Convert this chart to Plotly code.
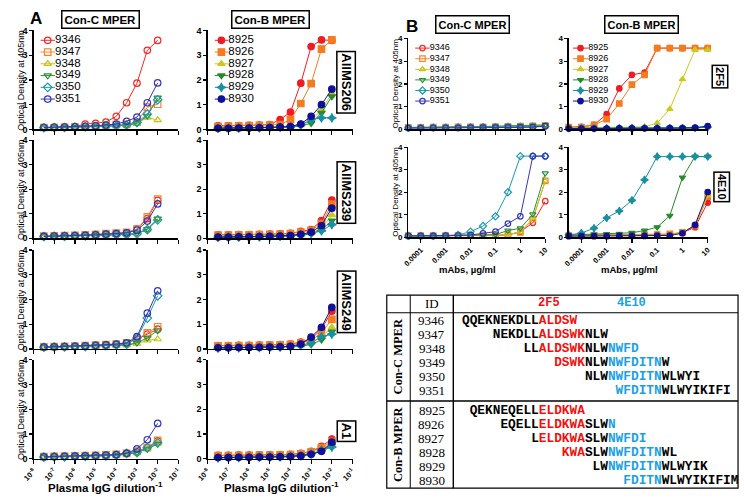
import plotly.graph_objects as go

W, H = 744, 503

# ------------------------------------------------------------------ data
dil_exp = [-7.5, -7.0, -6.5, -6.0, -5.5, -5.0, -4.5, -4.0, -3.5, -3.0, -2.5, -2.0]
mab_exp = [-4.5, -4.0, -3.5, -3.0, -2.5, -2.0, -1.5, -1.0, -0.5, 0.0, 0.5, 1.0]
dil_tick_exp = [-8, -7, -6, -5, -4, -3, -2, -1]
mab_tick_vals = [0.0001, 0.001, 0.01, 0.1, 1, 10]
mab_tick_text = ["0.0001", "0.001", "0.01", "0.1", "1", "10"]

conc_ids = ["9346", "9347", "9348", "9349", "9350", "9351"]
conb_ids = ["8925", "8926", "8927", "8928", "8929", "8930"]
sera = ["AIIMS206", "AIIMS239", "AIIMS249", "A1"]
mabs = ["2F5", "4E10"]

aiims206_conc = [
    [0.08, 0.09, 0.10, 0.12, 0.22, 0.25, 0.30, 0.53, 1.08, 1.87, 3.20, 3.60],
    [0.08, 0.08, 0.09, 0.10, 0.12, 0.14, 0.18, 0.20, 0.22, 0.30, 0.90, 1.02],
    [0.07, 0.08, 0.08, 0.09, 0.10, 0.12, 0.14, 0.15, 0.18, 0.25, 0.48, 0.38],
    [0.07, 0.08, 0.08, 0.09, 0.10, 0.12, 0.14, 0.15, 0.18, 0.25, 0.55, 1.28],
    [0.07, 0.08, 0.08, 0.09, 0.10, 0.12, 0.14, 0.15, 0.17, 0.28, 0.62, 1.20],
    [0.08, 0.09, 0.10, 0.11, 0.13, 0.15, 0.18, 0.22, 0.33, 0.50, 1.08, 1.88],
]
aiims206_conb = [
    [0.15, 0.15, 0.16, 0.17, 0.18, 0.20, 0.40, 0.70, 1.87, 3.35, 3.62, 3.60],
    [0.13, 0.14, 0.15, 0.16, 0.17, 0.18, 0.20, 0.40, 1.05, 1.85, 3.25, 3.62],
    [0.05, 0.06, 0.06, 0.07, 0.08, 0.09, 0.10, 0.12, 0.18, 0.35, 0.80, 1.45],
    [0.05, 0.05, 0.06, 0.06, 0.07, 0.08, 0.09, 0.10, 0.15, 0.25, 0.67, 1.33],
    [0.05, 0.05, 0.06, 0.06, 0.07, 0.08, 0.09, 0.10, 0.18, 0.40, 0.47, 0.47],
    [0.05, 0.05, 0.06, 0.06, 0.07, 0.08, 0.10, 0.12, 0.22, 0.53, 1.00, 1.63],
]
aiims239_conc = [
    [0.08, 0.09, 0.10, 0.11, 0.13, 0.15, 0.18, 0.20, 0.22, 0.38, 0.80, 1.55],
    [0.09, 0.10, 0.11, 0.12, 0.14, 0.16, 0.19, 0.21, 0.24, 0.37, 0.87, 1.60],
    [0.07, 0.08, 0.08, 0.09, 0.10, 0.12, 0.14, 0.15, 0.16, 0.20, 0.35, 0.80],
    [0.07, 0.08, 0.08, 0.09, 0.10, 0.12, 0.13, 0.14, 0.15, 0.20, 0.37, 0.80],
    [0.07, 0.08, 0.08, 0.09, 0.10, 0.12, 0.13, 0.14, 0.15, 0.18, 0.35, 0.75],
    [0.08, 0.09, 0.10, 0.11, 0.12, 0.14, 0.17, 0.19, 0.22, 0.33, 0.70, 1.40],
]
aiims239_conb = [
    [0.14, 0.14, 0.15, 0.15, 0.16, 0.17, 0.18, 0.20, 0.28, 0.35, 0.72, 1.56],
    [0.13, 0.13, 0.14, 0.14, 0.15, 0.16, 0.17, 0.19, 0.25, 0.32, 0.60, 1.39],
    [0.05, 0.05, 0.06, 0.06, 0.07, 0.08, 0.09, 0.10, 0.15, 0.22, 0.40, 0.95],
    [0.04, 0.05, 0.05, 0.06, 0.06, 0.07, 0.08, 0.09, 0.12, 0.18, 0.35, 0.72],
    [0.04, 0.05, 0.05, 0.06, 0.06, 0.07, 0.08, 0.09, 0.14, 0.20, 0.30, 0.56],
    [0.05, 0.05, 0.06, 0.06, 0.07, 0.08, 0.09, 0.11, 0.16, 0.25, 0.52, 1.23],
]
aiims249_conc = [
    [0.08, 0.09, 0.10, 0.11, 0.13, 0.15, 0.17, 0.19, 0.25, 0.40, 0.60, 0.80],
    [0.09, 0.10, 0.11, 0.12, 0.14, 0.16, 0.18, 0.20, 0.25, 0.40, 0.65, 0.90],
    [0.07, 0.08, 0.08, 0.09, 0.10, 0.11, 0.12, 0.13, 0.15, 0.22, 0.35, 0.40],
    [0.07, 0.08, 0.08, 0.09, 0.10, 0.11, 0.12, 0.13, 0.16, 0.25, 0.45, 0.75],
    [0.07, 0.08, 0.08, 0.09, 0.10, 0.12, 0.14, 0.16, 0.20, 0.45, 1.25, 2.15],
    [0.08, 0.09, 0.10, 0.11, 0.13, 0.15, 0.17, 0.20, 0.25, 0.50, 1.45, 2.35],
]
aiims249_conb = [
    [0.14, 0.14, 0.15, 0.15, 0.16, 0.17, 0.18, 0.20, 0.28, 0.40, 0.80, 1.53],
    [0.13, 0.13, 0.14, 0.14, 0.15, 0.16, 0.17, 0.19, 0.25, 0.35, 0.65, 1.20],
    [0.05, 0.05, 0.06, 0.06, 0.07, 0.08, 0.09, 0.10, 0.15, 0.25, 0.50, 0.87],
    [0.04, 0.05, 0.05, 0.06, 0.06, 0.07, 0.08, 0.09, 0.12, 0.18, 0.37, 0.70],
    [0.04, 0.05, 0.05, 0.06, 0.06, 0.07, 0.08, 0.09, 0.14, 0.25, 0.50, 0.60],
    [0.05, 0.05, 0.06, 0.06, 0.07, 0.08, 0.09, 0.11, 0.20, 0.48, 0.88, 1.68],
]
a1_conc = [
    [0.08, 0.09, 0.10, 0.11, 0.12, 0.13, 0.15, 0.17, 0.22, 0.30, 0.45, 0.72],
    [0.09, 0.10, 0.11, 0.12, 0.13, 0.14, 0.16, 0.18, 0.22, 0.30, 0.45, 0.75],
    [0.07, 0.08, 0.08, 0.09, 0.10, 0.11, 0.12, 0.14, 0.18, 0.25, 0.42, 0.62],
    [0.07, 0.08, 0.08, 0.09, 0.10, 0.11, 0.12, 0.14, 0.20, 0.25, 0.40, 0.60],
    [0.07, 0.08, 0.08, 0.09, 0.10, 0.11, 0.12, 0.14, 0.22, 0.25, 0.45, 0.65],
    [0.08, 0.09, 0.10, 0.11, 0.12, 0.13, 0.15, 0.17, 0.22, 0.40, 0.77, 1.43],
]
a1_conb = [
    [0.14, 0.14, 0.15, 0.15, 0.16, 0.16, 0.17, 0.18, 0.22, 0.30, 0.50, 0.80],
    [0.13, 0.13, 0.14, 0.14, 0.15, 0.15, 0.16, 0.17, 0.20, 0.28, 0.45, 0.70],
    [0.05, 0.05, 0.06, 0.06, 0.07, 0.07, 0.08, 0.09, 0.12, 0.20, 0.35, 0.60],
    [0.04, 0.05, 0.05, 0.06, 0.06, 0.07, 0.08, 0.09, 0.12, 0.18, 0.32, 0.55],
    [0.04, 0.05, 0.05, 0.06, 0.06, 0.07, 0.08, 0.09, 0.12, 0.20, 0.35, 0.47],
    [0.05, 0.05, 0.06, 0.06, 0.07, 0.07, 0.08, 0.09, 0.12, 0.18, 0.30, 0.67],
]
f2f5_conc = [
    [0.08, 0.08, 0.09, 0.09, 0.10, 0.10, 0.10, 0.11, 0.12, 0.13, 0.14, 0.15],
    [0.09, 0.09, 0.10, 0.10, 0.11, 0.11, 0.12, 0.13, 0.14, 0.15, 0.16, 0.18],
    [0.08, 0.08, 0.09, 0.09, 0.10, 0.10, 0.11, 0.12, 0.13, 0.14, 0.15, 0.16],
    [0.09, 0.09, 0.10, 0.10, 0.11, 0.12, 0.13, 0.14, 0.15, 0.16, 0.17, 0.20],
    [0.07, 0.07, 0.08, 0.08, 0.09, 0.09, 0.10, 0.10, 0.11, 0.11, 0.12, 0.13],
    [0.06, 0.06, 0.07, 0.07, 0.07, 0.08, 0.08, 0.08, 0.09, 0.09, 0.10, 0.15],
]
e4e10_conc = [
    [0.06, 0.06, 0.06, 0.07, 0.07, 0.07, 0.08, 0.08, 0.10, 0.25, 0.64, 1.60],
    [0.07, 0.07, 0.07, 0.08, 0.08, 0.08, 0.09, 0.10, 0.12, 0.22, 0.80, 2.50],
    [0.06, 0.06, 0.06, 0.07, 0.07, 0.07, 0.08, 0.09, 0.11, 0.25, 0.83, 2.50],
    [0.07, 0.07, 0.07, 0.08, 0.08, 0.09, 0.10, 0.12, 0.30, 0.40, 1.02, 2.84],
    [0.06, 0.06, 0.06, 0.06, 0.10, 0.25, 0.50, 0.93, 2.00, 3.60, 3.60, 3.60],
    [0.06, 0.06, 0.06, 0.07, 0.08, 0.10, 0.17, 0.25, 0.61, 0.93, 3.60, 3.60],
]
f2f5_conb = [
    [0.10, 0.12, 0.20, 0.67, 1.80, 2.40, 2.50, 3.57, 3.57, 3.57, 3.57, 3.57],
    [0.10, 0.10, 0.20, 0.45, 1.14, 1.97, 2.40, 3.57, 3.57, 3.57, 3.57, 3.57],
    [0.08, 0.08, 0.09, 0.09, 0.10, 0.10, 0.12, 0.28, 0.90, 2.20, 3.50, 3.50],
    [0.04, 0.04, 0.04, 0.05, 0.05, 0.05, 0.05, 0.05, 0.06, 0.06, 0.07, 0.10],
    [0.05, 0.05, 0.05, 0.05, 0.05, 0.06, 0.06, 0.06, 0.06, 0.07, 0.07, 0.10],
    [0.04, 0.04, 0.04, 0.04, 0.05, 0.05, 0.05, 0.05, 0.06, 0.06, 0.08, 0.15],
]
e4e10_conb = [
    [0.08, 0.08, 0.08, 0.08, 0.09, 0.09, 0.10, 0.11, 0.13, 0.20, 0.45, 1.54],
    [0.08, 0.09, 0.09, 0.09, 0.10, 0.10, 0.11, 0.12, 0.15, 0.22, 0.50, 1.80],
    [0.07, 0.07, 0.08, 0.08, 0.08, 0.09, 0.09, 0.10, 0.12, 0.20, 0.55, 1.85],
    [0.10, 0.12, 0.13, 0.14, 0.15, 0.20, 0.30, 0.45, 0.96, 2.65, 3.58, 3.58],
    [0.10, 0.19, 0.40, 0.86, 1.17, 1.64, 2.55, 3.58, 3.58, 3.58, 3.58, 3.58],
    [0.05, 0.05, 0.05, 0.05, 0.06, 0.06, 0.06, 0.07, 0.08, 0.18, 0.55, 2.01],
]

# table: peptide sequences as (segment, kind) where kind k=black, r=2F5, b=4E10
conc_seqs = [
    [("QQEKNEKDLL", "k"), ("ALDSW", "r")],
    [("NEKDLL", "k"), ("ALDSWK", "r"), ("NLW", "k")],
    [("LL", "k"), ("ALDSWK", "r"), ("NLW", "k"), ("NWFD", "b")],
    [("DSWK", "r"), ("NLW", "k"), ("NWFDITN", "b"), ("W", "k")],
    [("NLW", "k"), ("NWFDITN", "b"), ("WLWYI", "k")],
    [("WFDITN", "b"), ("WLWYIKIFI", "k")],
]
conb_seqs = [
    [("QEKNEQELL", "k"), ("ELDKWA", "r")],
    [("EQELL", "k"), ("ELDKWA", "r"), ("SLW", "k"), ("N", "b")],
    [("L", "k"), ("ELDKWA", "r"), ("SLW", "k"), ("NWFDI", "b")],
    [("KWA", "r"), ("SLW", "k"), ("NWFDITN", "b"), ("WL", "k")],
    [("LW", "k"), ("NWFDITN", "b"), ("WLWYIK", "k")],
    [("FDITN", "b"), ("WLWYIKIFIM", "k")],
]
conc_seq_offsets = [0, 4, 8, 12, 16, 20]
conb_seq_offsets = [1, 5, 9, 13, 17, 21]

# ------------------------------------------------------------------ style
conc_colors = ["#ee2a24", "#f5862e", "#c4c41a", "#2e8f3a", "#1c9aaa", "#3535b5"]
conb_colors = ["#ee1c24", "#f47b20", "#c9c91e", "#258a2e", "#1a8fa0", "#101098"]
conc_symbols = ["circle-open", "square-open", "triangle-up-open",
                "triangle-down-open", "diamond-open", "circle-open"]
conb_symbols = ["circle", "square", "triangle-up", "triangle-down",
                "star-diamond", "circle"]
seq_colors = {"k": "#000000", "r": "#ee1111", "b": "#1ba1e2"}
SANS = "Arial, Liberation Sans, sans-serif"
SERIF = "Times New Roman, Liberation Serif, serif"
MONO = "Courier New, Liberation Mono, monospace"

layout = dict(width=W, height=H, margin=dict(l=0, r=0, t=0, b=0),
              paper_bgcolor="white", plot_bgcolor="rgba(0,0,0,0)",
              showlegend=False, font=dict(family=SANS, color="black"))
traces, annotations, shapes = [], [], []
count = [0]


def px(xp):
    return xp / W


def py(yp):
    return 1 - yp / H


def new_axes(xd, yd, xcfg, ycfg):
    count[0] += 1
    n = count[0]
    s = "" if n == 1 else str(n)
    layout["xaxis" + s] = dict(domain=[px(xd[0]), px(xd[1])], anchor="y" + s, **xcfg)
    layout["yaxis" + s] = dict(domain=[py(yd[1]), py(yd[0])], anchor="x" + s, **ycfg)
    return "x" + s, "y" + s


base_line = dict(showline=True, linecolor="black", linewidth=1.3, showgrid=False,
                 zeroline=False, ticks="outside", tickcolor="black", tickwidth=1.2)


def ann(text, x, y, size, **kw):
    d = dict(text=text, x=px(x), y=py(y), xref="paper", yref="paper",
             showarrow=False, xanchor="center", yanchor="middle",
             font=dict(size=size, family=kw.pop("family", SANS),
                       color=kw.pop("color", "black")))
    d.update(kw)
    annotations.append(d)


def add_series(xa, ya, xs, series, colors, symbols, msize):
    for vals, c, sym in zip(series, colors, symbols):
        traces.append(go.Scatter(
            x=xs, y=vals, xaxis=xa, yaxis=ya, mode="lines+markers",
            line=dict(color=c, width=1), cliponaxis=False,
            marker=dict(symbol=sym, size=msize, color=c, line=dict(color=c, width=1.2))))


def add_legend(xd, yd, ids, colors, symbols, msize, fsize):
    xa, ya = new_axes(xd, yd,
                      dict(range=[0, 1], visible=False, fixedrange=True),
                      dict(range=[len(ids) - 0.5, -0.5], visible=False, fixedrange=True))
    for i, (lab, c, sym) in enumerate(zip(ids, colors, symbols)):
        traces.append(go.Scatter(x=[0, 1], y=[i, i], xaxis=xa, yaxis=ya, mode="lines",
                                 cliponaxis=False, line=dict(color=c, width=1)))
        traces.append(go.Scatter(x=[0.5], y=[i], xaxis=xa, yaxis=ya, mode="markers",
                                 cliponaxis=False,
                                 marker=dict(symbol=sym, size=msize, color=c,
                                             line=dict(color=c, width=1.2))))
        traces.append(go.Scatter(x=[1], y=[i], xaxis=xa, yaxis=ya, mode="text",
                                 text=[lab], textposition="middle right", cliponaxis=False,
                                 textfont=dict(size=fsize, family=SANS, color="black")))


# ------------------------------------------------------------------ panel A
dil_x = [10 ** e for e in dil_exp]
a_rows = [(26, 127), (138, 238), (250, 351), (362, 463)]
a_cols = [(22, 170), (200, 348)]
a_data = [(aiims206_conc, aiims206_conb), (aiims239_conc, aiims239_conb),
          (aiims249_conc, aiims249_conb), (a1_conc, a1_conb)]
a_tickvals = [10 ** e for e in dil_tick_exp]
a_ticktext = ["10<sup>%d</sup>" % e for e in dil_tick_exp]
label_centers = [78.5, 191, 302.5, 435]

for r, (yd, (dc, db)) in enumerate(zip(a_rows, a_data)):
    for c, xd in enumerate(a_cols):
        xcfg = dict(base_line, type="log", range=[-8, -1], tickvals=a_tickvals,
                    ticktext=a_ticktext, tickangle=-45, ticklen=4,
                    tickfont=dict(size=7.5, weight="bold"),
                    showticklabels=(r == 3))
        ycfg = dict(base_line, range=[0, 4], tickvals=[0, 1, 2, 3, 4], ticklen=3,
                    tickfont=dict(size=9, weight="bold"))
        xa, ya = new_axes(xd, yd, xcfg, ycfg)
        if c == 0:
            add_series(xa, ya, dil_x, dc, conc_colors, conc_symbols, 6.5)
        else:
            add_series(xa, ya, dil_x, db, conb_colors, conb_symbols, 6.5)
    ann("Optical Density at 405nm", 9, (yd[0] + yd[1]) / 2, 9, textangle=-90)
    ann("<b>%s</b>" % sera[r], 341.5, label_centers[r], 13, textangle=90,
        bordercolor="black", borderwidth=1.5, borderpad=1, bgcolor="white")

add_legend((29, 44), (30, 102), conc_ids, conc_colors, conc_symbols, 6.5, 11.5)
add_legend((207, 221), (30, 102), conb_ids, conb_colors, conb_symbols, 6.5, 11.5)

ann("<b>A</b>", 25, 14, 17)
ann("<b>Con-C MPER</b>", 90, 15, 11.5, bordercolor="black", borderwidth=1.5, borderpad=2)
ann("<b>Con-B MPER</b>", 264, 15, 11.5, bordercolor="black", borderwidth=1.5, borderpad=2)
ann("<b>Plasma IgG dilution<sup>-1</sup></b>", 96, 492, 11.5)
ann("<b>Plasma IgG dilution<sup>-1</sup></b>", 275, 492, 11.5)

# ------------------------------------------------------------------ panel B
mab_x = [10 ** e for e in mab_exp]
b_rows = [(34, 127), (145, 237)]
b_cols = [(405, 545), (569, 711)]
b_data = [(f2f5_conc, f2f5_conb), (e4e10_conc, e4e10_conb)]
b_label_centers = [(724, 73.5), (725.5, 186)]
for r, (yd, (dc, db)) in enumerate(zip(b_rows, b_data)):
    for c, xd in enumerate(b_cols):
        xcfg = dict(base_line, type="log", range=[-4.5, 1], tickvals=mab_tick_vals,
                    ticktext=mab_tick_text, tickangle=-45, ticklen=4,
                    tickfont=dict(size=7.5, weight="bold"),
                    showticklabels=(r == 1))
        ycfg = dict(base_line, range=[0, 4], tickvals=[0, 1, 2, 3, 4], ticklen=3,
                    tickfont=dict(size=8, weight="bold"))
        xa, ya = new_axes(xd, yd, xcfg, ycfg)
        if c == 0:
            add_series(xa, ya, mab_x, dc, conc_colors, conc_symbols, 5.5)
        else:
            add_series(xa, ya, mab_x, db, conb_colors, conb_symbols, 5.5)
    ann("Optical Density at 405nm", 392, (yd[0] + yd[1]) / 2, 8, textangle=-90)
    ann("<b>%s</b>" % mabs[r], b_label_centers[r][0], b_label_centers[r][1], 11,
        textangle=90, bordercolor="black", borderwidth=1.5, borderpad=1, bgcolor="white")

add_legend((412, 427), (38.6, 103.4), conc_ids, conc_colors, conc_symbols, 5.5, 9)
add_legend((573, 589), (38.6, 103.4), conb_ids, conb_colors, conb_symbols, 5.5, 9)

ann("<b>B</b>", 409, 22, 17)
ann("<b>Con-C MPER</b>", 471, 20, 11, bordercolor="black", borderwidth=1.5, borderpad=2)
ann("<b>Con-B MPER</b>", 643, 20, 11, bordercolor="black", borderwidth=1.5, borderpad=2)
ann("<b>mAbs, \u00b5g/ml</b>", 465, 270, 9.5)
ann("<b>mAbs, \u00b5g/ml</b>", 631, 270, 9.5)

# ------------------------------------------------------------------ table
T_L, T_R, T_T, T_B = 383, 742, 296, 493
HDR_B, GRP_SEP = 314, 404
V1, V2 = 407, 451


def hline(y, x0, x1, w=1.0):
    shapes.append(dict(type="line", xref="paper", yref="paper", x0=px(x0), x1=px(x1),
                       y0=py(y), y1=py(y), line=dict(color="black", width=w)))


def vline(x, y0, y1, w=1.0):
    shapes.append(dict(type="line", xref="paper", yref="paper", x0=px(x), x1=px(x),
                       y0=py(y0), y1=py(y1), line=dict(color="black", width=w)))


shapes.append(dict(type="rect", xref="paper", yref="paper", x0=px(T_L), x1=px(T_R),
                   y0=py(T_B), y1=py(T_T), line=dict(color="black", width=1.2)))
hline(HDR_B, T_L, T_R, 1.0)
hline(GRP_SEP, T_L, T_R, 1.4)
vline(V1, T_T, T_B, 1.0)
vline(V2, T_T, T_B, 1.4)

ann("ID", 429, 305, 13, family=SERIF)
ann("<b>2F5</b>", 549, 304, 12, family=MONO, color=seq_colors["r"])
ann("<b>4E10</b>", 633, 304, 12, family=MONO, color=seq_colors["b"])
ann("<b>Con-C MPER</b>", 394, 359, 12.5, family=SERIF, textangle=-90)
ann("<b>Con-B MPER</b>", 394, 448.5, 12.5, family=SERIF, textangle=-90)

ROW_H = 14.2
SEQ_X0 = 458


def seq_html(segs, off):
    body = "".join("<span style='color:%s'>%s</span>" % (seq_colors[k], t) for t, k in segs)
    return "<b>" + "\u00a0" * off + body + "</b>"


for g, (ids, seqs, offs, y0) in enumerate([(conc_ids, conc_seqs, conc_seq_offsets, 322),
                                          (conb_ids, conb_seqs, conb_seq_offsets, 414)]):
    for i, (pid, segs, off) in enumerate(zip(ids, seqs, offs)):
        yy = y0 + i * ROW_H
        ann(pid, 429, yy, 13, family=SERIF)
        ann(seq_html(segs, off), SEQ_X0, yy, 12.8, family=MONO, xanchor="left")

layout["annotations"] = annotations
layout["shapes"] = shapes
fig = go.Figure(data=traces, layout=layout)
fig.write_html("out.html", config={"displayModeBar": False, "staticPlot": True},
               post_script="document.body.style.margin='0px';"
                           "document.body.style.overflow='hidden';")
